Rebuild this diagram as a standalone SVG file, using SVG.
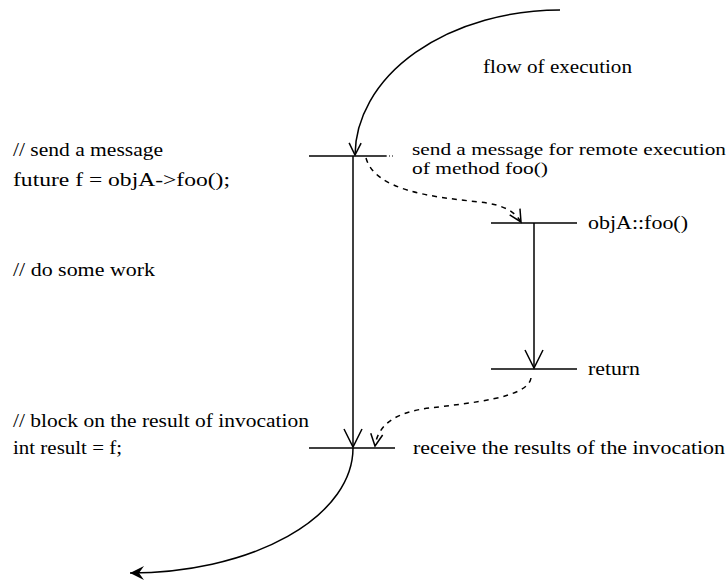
<svg xmlns="http://www.w3.org/2000/svg" width="727" height="583" viewBox="0 0 727 583">
  <style>
    text { font-family: "Liberation Serif", "Times New Roman", serif; font-size: 19px; fill: #000; }
    .tight { font-size: 16px; }
    .ln { fill: none; stroke: #000; stroke-width: 1.5; }
    .dash { fill: none; stroke: #000; stroke-width: 1.5; stroke-dasharray: 5 5; }
  </style>
  <defs>
    <marker id="vee-lg" markerUnits="userSpaceOnUse" viewBox="-20 -11 22 22" refX="0" refY="0" markerWidth="22" markerHeight="22" orient="auto">
      <path d="M-18,-9 L0,0 L-18,9" fill="none" stroke="#000" stroke-width="1.5"/>
    </marker>
    <marker id="vee-sm" markerUnits="userSpaceOnUse" viewBox="-14 -8 16 16" refX="0" refY="0" markerWidth="16" markerHeight="16" orient="auto">
      <path d="M-12,-6 L0,0 L-12,6" fill="none" stroke="#000" stroke-width="1.5"/>
    </marker>
    <marker id="head" markerUnits="userSpaceOnUse" viewBox="-16 -9 18 18" refX="0" refY="0" markerWidth="18" markerHeight="18" orient="auto">
      <path d="M0,0 L-14,-7 L-9,0 L-14,7 Z" fill="#000"/>
    </marker>
  </defs>

  <!-- code annotations on the left -->
  <g id="code">
    <text x="13" y="156" textLength="150" lengthAdjust="spacingAndGlyphs">// send a message</text>
    <text x="13" y="186" textLength="217" lengthAdjust="spacingAndGlyphs">future f = objA-&gt;foo();</text>
    <text x="13" y="276" textLength="142" lengthAdjust="spacingAndGlyphs">// do some work</text>
    <text x="13" y="427" textLength="296" lengthAdjust="spacingAndGlyphs">// block on the result of invocation</text>
    <text x="13" y="454" textLength="109" lengthAdjust="spacingAndGlyphs">int result = f;</text>
  </g>

  <!-- caller timeline: send point -->
  <g id="send">
    <line class="ln" x1="309" y1="156" x2="386" y2="156"/>
    <line x1="386" y1="156" x2="395" y2="156" stroke="#000" stroke-width="1" stroke-dasharray="1 2"/>
    <text class="tight" x="412" y="155" textLength="314" lengthAdjust="spacingAndGlyphs">send a message for remote execution</text>
    <text class="tight" x="412" y="174" textLength="136" lengthAdjust="spacingAndGlyphs">of method foo()</text>
  </g>

  <!-- remote method start -->
  <g id="foo">
    <line class="ln" x1="491" y1="223" x2="577" y2="223"/>
    <text x="588" y="229" textLength="100" lengthAdjust="spacingAndGlyphs">objA::foo()</text>
  </g>

  <!-- remote method return -->
  <g id="return">
    <line class="ln" x1="491" y1="369" x2="577" y2="369"/>
    <text x="588" y="375" textLength="52" lengthAdjust="spacingAndGlyphs">return</text>
  </g>

  <!-- caller timeline: receive point -->
  <g id="receive">
    <line class="ln" x1="309" y1="448" x2="395" y2="448"/>
    <text x="413" y="454" textLength="312" lengthAdjust="spacingAndGlyphs">receive the results of the invocation</text>
  </g>

  <g id="label">
    <text x="483" y="73" textLength="149" lengthAdjust="spacingAndGlyphs">flow of execution</text>
  </g>

  <!-- connectors -->
  <g id="connectors">
    <path class="ln" d="M560,10 A205,146 0 0 0 355,155" marker-end="url(#vee-sm)"/>
    <line class="ln" x1="353" y1="156" x2="353" y2="447" marker-end="url(#vee-lg)"/>
    <path class="dash" d="M366,158 C375,190 430,197 480,202 C505,205 515,212 521,222" marker-end="url(#vee-sm)"/>
    <line class="ln" x1="534" y1="223" x2="534" y2="368" marker-end="url(#vee-lg)"/>
    <path class="dash" d="M531,378 C528,398 470,403 430,408 C395,412 378,425 375,446" marker-end="url(#vee-sm)"/>
    <path class="ln" d="M353,448 A223,125 0 0 1 130,573" marker-end="url(#head)"/>
  </g>
</svg>
